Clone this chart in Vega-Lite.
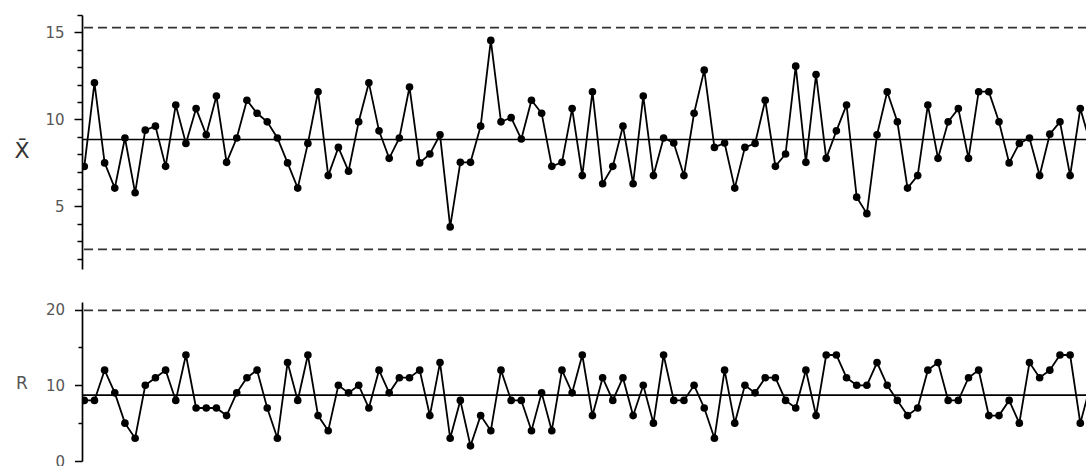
{
  "$schema": "https://vega.github.io/schema/vega-lite/v6.json",
  "padding": {"left": 13, "top": 14, "right": 0, "bottom": 0},
  "background": "white",
  "bounds": "flush",
  "spacing": 33,
  "config": {"view": {"stroke": null}, "font": "DejaVu Sans"},
  "data": {"values": [
    {"i":1,"xbar":7.29,"r":8},{"i":2,"xbar":12.1,"r":8},{"i":3,"xbar":7.5,"r":12},{"i":4,"xbar":6.05,"r":9},{"i":5,"xbar":8.93,"r":5},
    {"i":6,"xbar":5.78,"r":3},{"i":7,"xbar":9.38,"r":10},{"i":8,"xbar":9.61,"r":11},{"i":9,"xbar":7.3,"r":12},{"i":10,"xbar":10.83,"r":8},
    {"i":11,"xbar":8.62,"r":14},{"i":12,"xbar":10.62,"r":7},{"i":13,"xbar":9.11,"r":7},{"i":14,"xbar":11.34,"r":7},{"i":15,"xbar":7.53,"r":6},
    {"i":16,"xbar":8.93,"r":9},{"i":17,"xbar":11.1,"r":11},{"i":18,"xbar":10.35,"r":12},{"i":19,"xbar":9.86,"r":7},{"i":20,"xbar":8.93,"r":3},
    {"i":21,"xbar":7.5,"r":13},{"i":22,"xbar":6.05,"r":8},{"i":23,"xbar":8.62,"r":14},{"i":24,"xbar":11.59,"r":6},{"i":25,"xbar":6.77,"r":4},
    {"i":26,"xbar":8.39,"r":10},{"i":27,"xbar":7.02,"r":9},{"i":28,"xbar":9.86,"r":10},{"i":29,"xbar":12.1,"r":7},{"i":30,"xbar":9.34,"r":12},
    {"i":31,"xbar":7.76,"r":9},{"i":32,"xbar":8.93,"r":11},{"i":33,"xbar":11.86,"r":11},{"i":34,"xbar":7.5,"r":12},{"i":35,"xbar":8.01,"r":6},
    {"i":36,"xbar":9.11,"r":13},{"i":37,"xbar":3.82,"r":3},{"i":38,"xbar":7.53,"r":8},{"i":39,"xbar":7.53,"r":2},{"i":40,"xbar":9.61,"r":6},
    {"i":41,"xbar":14.54,"r":4},{"i":42,"xbar":9.86,"r":12},{"i":43,"xbar":10.1,"r":8},{"i":44,"xbar":8.87,"r":8},{"i":45,"xbar":11.1,"r":4},
    {"i":46,"xbar":10.35,"r":9},{"i":47,"xbar":7.3,"r":4},{"i":48,"xbar":7.53,"r":12},{"i":49,"xbar":10.62,"r":9},{"i":50,"xbar":6.77,"r":14},
    {"i":51,"xbar":11.59,"r":6},{"i":52,"xbar":6.3,"r":11},{"i":53,"xbar":7.3,"r":8},{"i":54,"xbar":9.61,"r":11},{"i":55,"xbar":6.3,"r":6},
    {"i":56,"xbar":11.34,"r":10},{"i":57,"xbar":6.77,"r":5},{"i":58,"xbar":8.93,"r":14},{"i":59,"xbar":8.64,"r":8},{"i":60,"xbar":6.77,"r":8},
    {"i":61,"xbar":10.35,"r":10},{"i":62,"xbar":12.83,"r":7},{"i":63,"xbar":8.39,"r":3},{"i":64,"xbar":8.64,"r":12},{"i":65,"xbar":6.05,"r":5},
    {"i":66,"xbar":8.39,"r":10},{"i":67,"xbar":8.62,"r":9},{"i":68,"xbar":11.1,"r":11},{"i":69,"xbar":7.3,"r":11},{"i":70,"xbar":8.01,"r":8},
    {"i":71,"xbar":13.06,"r":7},{"i":72,"xbar":7.53,"r":12},{"i":73,"xbar":12.58,"r":6},{"i":74,"xbar":7.76,"r":14},{"i":75,"xbar":9.34,"r":14},
    {"i":76,"xbar":10.83,"r":11},{"i":77,"xbar":5.53,"r":10},{"i":78,"xbar":4.58,"r":10},{"i":79,"xbar":9.11,"r":13},{"i":80,"xbar":11.59,"r":10},
    {"i":81,"xbar":9.86,"r":8},{"i":82,"xbar":6.05,"r":6},{"i":83,"xbar":6.77,"r":7},{"i":84,"xbar":10.83,"r":12},{"i":85,"xbar":7.76,"r":13},
    {"i":86,"xbar":9.86,"r":8},{"i":87,"xbar":10.62,"r":8},{"i":88,"xbar":7.76,"r":11},{"i":89,"xbar":11.59,"r":12},{"i":90,"xbar":11.59,"r":6},
    {"i":91,"xbar":9.86,"r":6},{"i":92,"xbar":7.5,"r":8},{"i":93,"xbar":8.62,"r":5},{"i":94,"xbar":8.93,"r":13},{"i":95,"xbar":6.77,"r":11},
    {"i":96,"xbar":9.15,"r":12},{"i":97,"xbar":9.86,"r":14},{"i":98,"xbar":6.77,"r":14},{"i":99,"xbar":10.62,"r":5},{"i":100,"xbar":8.6,"r":10}
  ]},
  "vconcat": [
    {
      "width": 1005,
      "height": 254,
      "resolve": {"axis": {"y": "independent"}},
      "layer": [
        {
          "data": {"values": [{"lim": 15.27}, {"lim": 2.53}]},
          "mark": {"type": "rule", "strokeDash": [9, 5], "strokeWidth": 1.7, "color": "#333333"},
          "encoding": {
            "y": {
              "field": "lim", "type": "quantitative",
              "scale": {"domain": [1.4, 16], "nice": false, "zero": false},
              "axis": {
                "orient": "left",
                "title": "X̄",
                "values": [5, 10, 15],
                "tickSize": 8,
                "tickColor": "black", "tickWidth": 1.5,
                "domainColor": "black", "domainWidth": 1.7,
                "grid": false,
                "labelFontSize": 15, "labelColor": "#555555", "labelPadding": 10,
                "titleAngle": 0, "titleFontSize": 22, "titleFontWeight": "normal", "titleColor": "#333333",
                "titleX": -60.5, "titleY": 142.4, "titleAlign": "center", "titleBaseline": "alphabetic"
              }
            }
          }
        },
        {
          "data": {"values": [{"cl": 8.84}]},
          "mark": {"type": "rule", "strokeWidth": 1.6, "color": "black"},
          "encoding": {
            "y": {
              "field": "cl", "type": "quantitative",
              "axis": {
                "orient": "left",
                "title": null,
                "values": [2, 3, 4, 6, 7, 8, 9, 11, 12, 13, 14, 16],
                "labels": false,
                "domain": false,
                "grid": false,
                "tickSize": 5,
                "tickColor": "black", "tickWidth": 1.5
              }
            }
          }
        },
        {
          "mark": {"type": "line", "color": "black", "strokeWidth": 1.8, "clip": true},
          "encoding": {
            "x": {"field": "i", "type": "quantitative", "scale": {"domain": [0.774, 99.66], "nice": false, "zero": false}, "axis": null},
            "y": {"field": "xbar", "type": "quantitative", "axis": null}
          }
        },
        {
          "mark": {"type": "point", "filled": true, "color": "black", "size": 58, "opacity": 1, "clip": true},
          "encoding": {
            "x": {"field": "i", "type": "quantitative", "axis": null},
            "y": {"field": "xbar", "type": "quantitative", "axis": null}
          }
        }
      ]
    },
    {
      "width": 1005,
      "height": 159,
      "resolve": {"axis": {"y": "independent"}},
      "layer": [
        {
          "data": {"values": [{"lim": 19.9}]},
          "mark": {"type": "rule", "strokeDash": [9, 5], "strokeWidth": 1.7, "color": "#333333"},
          "encoding": {
            "y": {
              "field": "lim", "type": "quantitative",
              "scale": {"domain": [0, 21], "nice": false, "zero": false},
              "axis": {
                "orient": "left",
                "title": "R",
                "values": [0, 10, 20],
                "tickSize": 7.5,
                "tickColor": "black", "tickWidth": 1.5,
                "domainColor": "black", "domainWidth": 1.7,
                "grid": false,
                "labelFontSize": 15, "labelColor": "#555555", "labelPadding": 10,
                "titleAngle": 0, "titleFontSize": 17, "titleFontWeight": "normal", "titleColor": "#555555",
                "titleX": -60.5, "titleY": 86.2, "titleAlign": "center", "titleBaseline": "alphabetic"
              }
            }
          }
        },
        {
          "data": {"values": [{"cl": 8.7}]},
          "mark": {"type": "rule", "strokeWidth": 1.6, "color": "black"},
          "encoding": {
            "y": {
              "field": "cl", "type": "quantitative",
              "axis": {
                "orient": "left",
                "title": null,
                "values": [5, 15],
                "labels": false,
                "domain": false,
                "grid": false,
                "tickSize": 4,
                "tickColor": "black", "tickWidth": 1.5
              }
            }
          }
        },
        {
          "mark": {"type": "line", "color": "black", "strokeWidth": 1.8, "clip": true},
          "encoding": {
            "x": {"field": "i", "type": "quantitative", "scale": {"domain": [0.774, 99.66], "nice": false, "zero": false}, "axis": null},
            "y": {"field": "r", "type": "quantitative", "axis": null}
          }
        },
        {
          "mark": {"type": "point", "filled": true, "color": "black", "size": 58, "opacity": 1, "clip": true},
          "encoding": {
            "x": {"field": "i", "type": "quantitative", "axis": null},
            "y": {"field": "r", "type": "quantitative", "axis": null}
          }
        }
      ]
    }
  ]
}
